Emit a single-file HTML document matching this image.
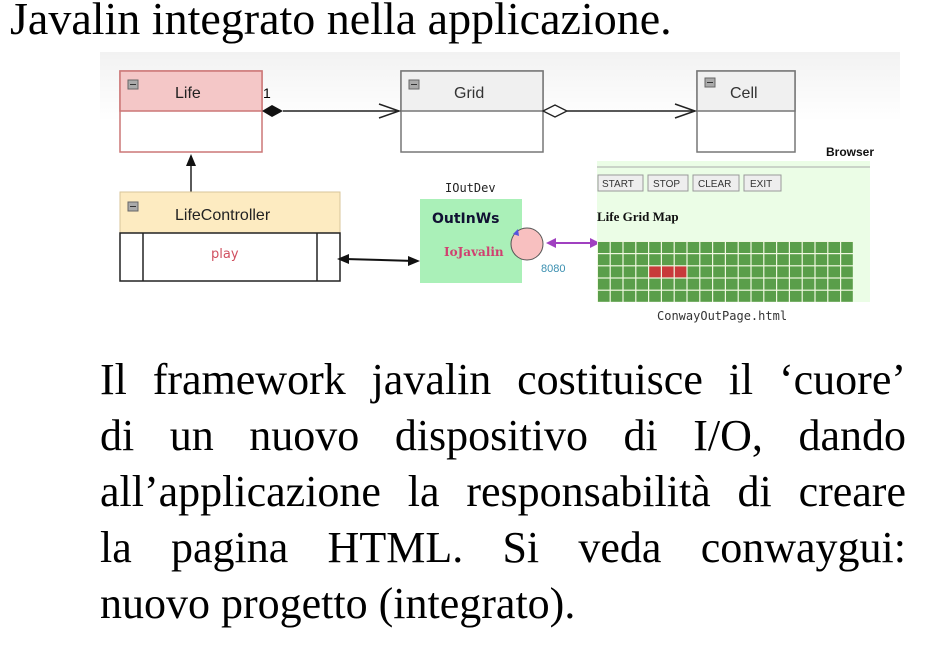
<!DOCTYPE html>
<html><head><meta charset="utf-8"><style>
body{margin:0;width:938px;height:654px;background:#fff;position:relative;overflow:hidden;font-family:"Liberation Serif",serif}
.t{position:absolute;left:10px;top:-8px;font-size:46px;white-space:nowrap}
.p{position:absolute;left:100px;top:352px;width:806px;font-size:44px;line-height:56px}
.p div{text-align:justify;text-align-last:justify;white-space:nowrap}
.p div.l{text-align-last:left}
svg{position:absolute;left:0;top:0}
</style></head><body>
<div class="t">Javalin integrato nella applicazione.</div>
<svg width="938" height="654" viewBox="0 0 938 654">
<defs><linearGradient id="bg" x1="0" y1="0" x2="0" y2="1"><stop offset="0" stop-color="#f2f2f2"/><stop offset="0.25" stop-color="#fff"/></linearGradient></defs>
<rect x="100" y="52" width="800" height="278" fill="url(#bg)"/>
<g font-family="Liberation Sans,sans-serif" font-size="16">
<rect x="120" y="71" width="142" height="81" fill="#fff" stroke="#c77" stroke-width="1.5"/>
<rect x="120" y="71" width="142" height="40" fill="#f4c7c7" stroke="#c77" stroke-width="1.5"/>
<rect x="128" y="80" width="10" height="9" fill="#aaa" stroke="#666"/><line x1="130" y1="84.5" x2="136" y2="84.5" stroke="#333"/>
<text x="175" y="98" fill="#222">Life</text>
<text x="263" y="98" fill="#000" font-size="14">1</text>
<rect x="401" y="71" width="142" height="81" fill="#fff" stroke="#777" stroke-width="1.5"/>
<rect x="401" y="71" width="142" height="40" fill="#f0f0f0" stroke="#777" stroke-width="1.5"/>
<rect x="409" y="80" width="10" height="9" fill="#aaa" stroke="#666"/><line x1="411" y1="84.5" x2="417" y2="84.5" stroke="#333"/>
<text x="454" y="98" fill="#333">Grid</text>
<rect x="697" y="71" width="98" height="81" fill="#fff" stroke="#777" stroke-width="1.5"/>
<rect x="697" y="71" width="98" height="40" fill="#f0f0f0" stroke="#777" stroke-width="1.5"/>
<rect x="705" y="78" width="10" height="9" fill="#aaa" stroke="#666"/><line x1="707" y1="82.5" x2="713" y2="82.5" stroke="#333"/>
<text x="730" y="98" fill="#333">Cell</text>
<line x1="283" y1="111" x2="399" y2="111" stroke="#222" stroke-width="1.5"/>
<polygon points="262,111 272,105 283,111 272,117" fill="#111"/>
<polyline points="379,104 399,111 379,118" fill="none" stroke="#222" stroke-width="1.5"/>
<line x1="567" y1="111" x2="695" y2="111" stroke="#222" stroke-width="1.5"/>
<polygon points="543,111 555,105 567,111 555,117" fill="#fff" stroke="#222" stroke-width="1.3"/>
<polyline points="675,104 695,111 675,118" fill="none" stroke="#222" stroke-width="1.5"/>
<line x1="191" y1="192" x2="191" y2="156" stroke="#222" stroke-width="1.5"/>
<polygon points="186,166 191,154 196,166" fill="#111"/>
<rect x="120" y="192" width="220" height="41" fill="#fdebc1" stroke="#d8c69a" stroke-width="1"/>
<rect x="128" y="202" width="10" height="9" fill="#aaa" stroke="#666"/><line x1="130" y1="206.5" x2="136" y2="206.5" stroke="#333"/>
<text x="175" y="220" fill="#222">LifeController</text>
<rect x="120" y="233" width="220" height="48" fill="#fff" stroke="#222" stroke-width="1.5"/>
<line x1="143" y1="233" x2="143" y2="281" stroke="#222" stroke-width="1.5"/>
<line x1="317" y1="233" x2="317" y2="281" stroke="#222" stroke-width="1.5"/>
<text x="211" y="258" fill="#d05060" font-size="13" font-family="DejaVu Sans,sans-serif">play</text>
<line x1="345" y1="259" x2="415" y2="261" stroke="#111" stroke-width="2"/>
<polygon points="337,259 349,254 349,264" fill="#111"/>
<polygon points="420,261 408,256 408,266" fill="#111"/>
<text x="445" y="192" font-size="12" font-family="DejaVu Sans Mono,monospace" fill="#222">IOutDev</text>
<rect x="420" y="199" width="102" height="84" fill="#aaf0b8"/>
<text x="432" y="223" font-size="14" font-weight="bold" font-family="DejaVu Sans,sans-serif" fill="#113">OutInWs</text>
<text x="444" y="256" font-size="12" font-weight="bold" font-family="DejaVu Serif,serif" fill="#d04070">IoJavalin</text>
<circle cx="527" cy="244" r="16" fill="#f8c0c0" stroke="#555" stroke-width="1"/>
<polygon points="513,234 518,229 519,236" fill="#55d"/>
<text x="541" y="272" font-size="11" fill="#3a8fb0">8080</text>
<line x1="551" y1="243" x2="594" y2="243" stroke="#a040c0" stroke-width="2"/>
<polygon points="546,243 556,238 556,248" fill="#a040c0"/>
<polygon points="600,243 590,238 590,248" fill="#a040c0"/>
<text x="826" y="156" font-size="12" font-weight="bold" fill="#111">Browser</text>
<rect x="597" y="161" width="273" height="141" fill="#ebfde6"/>
<line x1="597" y1="167" x2="870" y2="167" stroke="#aaa"/>
<g font-size="10" fill="#333">
<rect x="598" y="175" width="45" height="16" fill="#eee" stroke="#999"/><text x="602" y="187">START</text>
<rect x="648" y="175" width="40" height="16" fill="#eee" stroke="#999"/><text x="653" y="187">STOP</text>
<rect x="693" y="175" width="46" height="16" fill="#eee" stroke="#999"/><text x="698" y="187">CLEAR</text>
<rect x="744" y="175" width="37" height="16" fill="#eee" stroke="#999"/><text x="750" y="187">EXIT</text>
</g>
<text x="597" y="221" font-size="13" font-weight="bold" font-family="Liberation Serif,serif" fill="#111">Life Grid Map</text>
<rect x="597" y="241" width="256" height="61" fill="#f0f8e0"/>
<g fill="#5a9e4a" id="cells"></g>
<text x="657" y="320" font-size="12" font-family="DejaVu Sans Mono,monospace" fill="#333">ConwayOutPage.html</text>
</g>
</svg>
<div class="p">
<div>Il framework javalin costituisce il ‘cuore’</div>
<div>di un nuovo dispositivo di I/O, dando</div>
<div>all’applicazione la responsabilità di creare</div>
<div>la pagina HTML. Si veda conwaygui:</div>
<div class="l">nuovo progetto (integrato).</div>
</div>
<script>
var g=document.getElementById('cells'),s='';
for(var r=0;r<5;r++)for(var c=0;c<20;c++){
var red=(r==2&&c>=4&&c<=6);
s+='<rect x="'+(597+c*12.8+1)+'" y="'+(241+r*12.2+1)+'" width="11.6" height="11" fill="'+(red?'#c83a3a':'#5a9e4a')+'"/>';}
g.innerHTML=s;
</script>
</body></html>
